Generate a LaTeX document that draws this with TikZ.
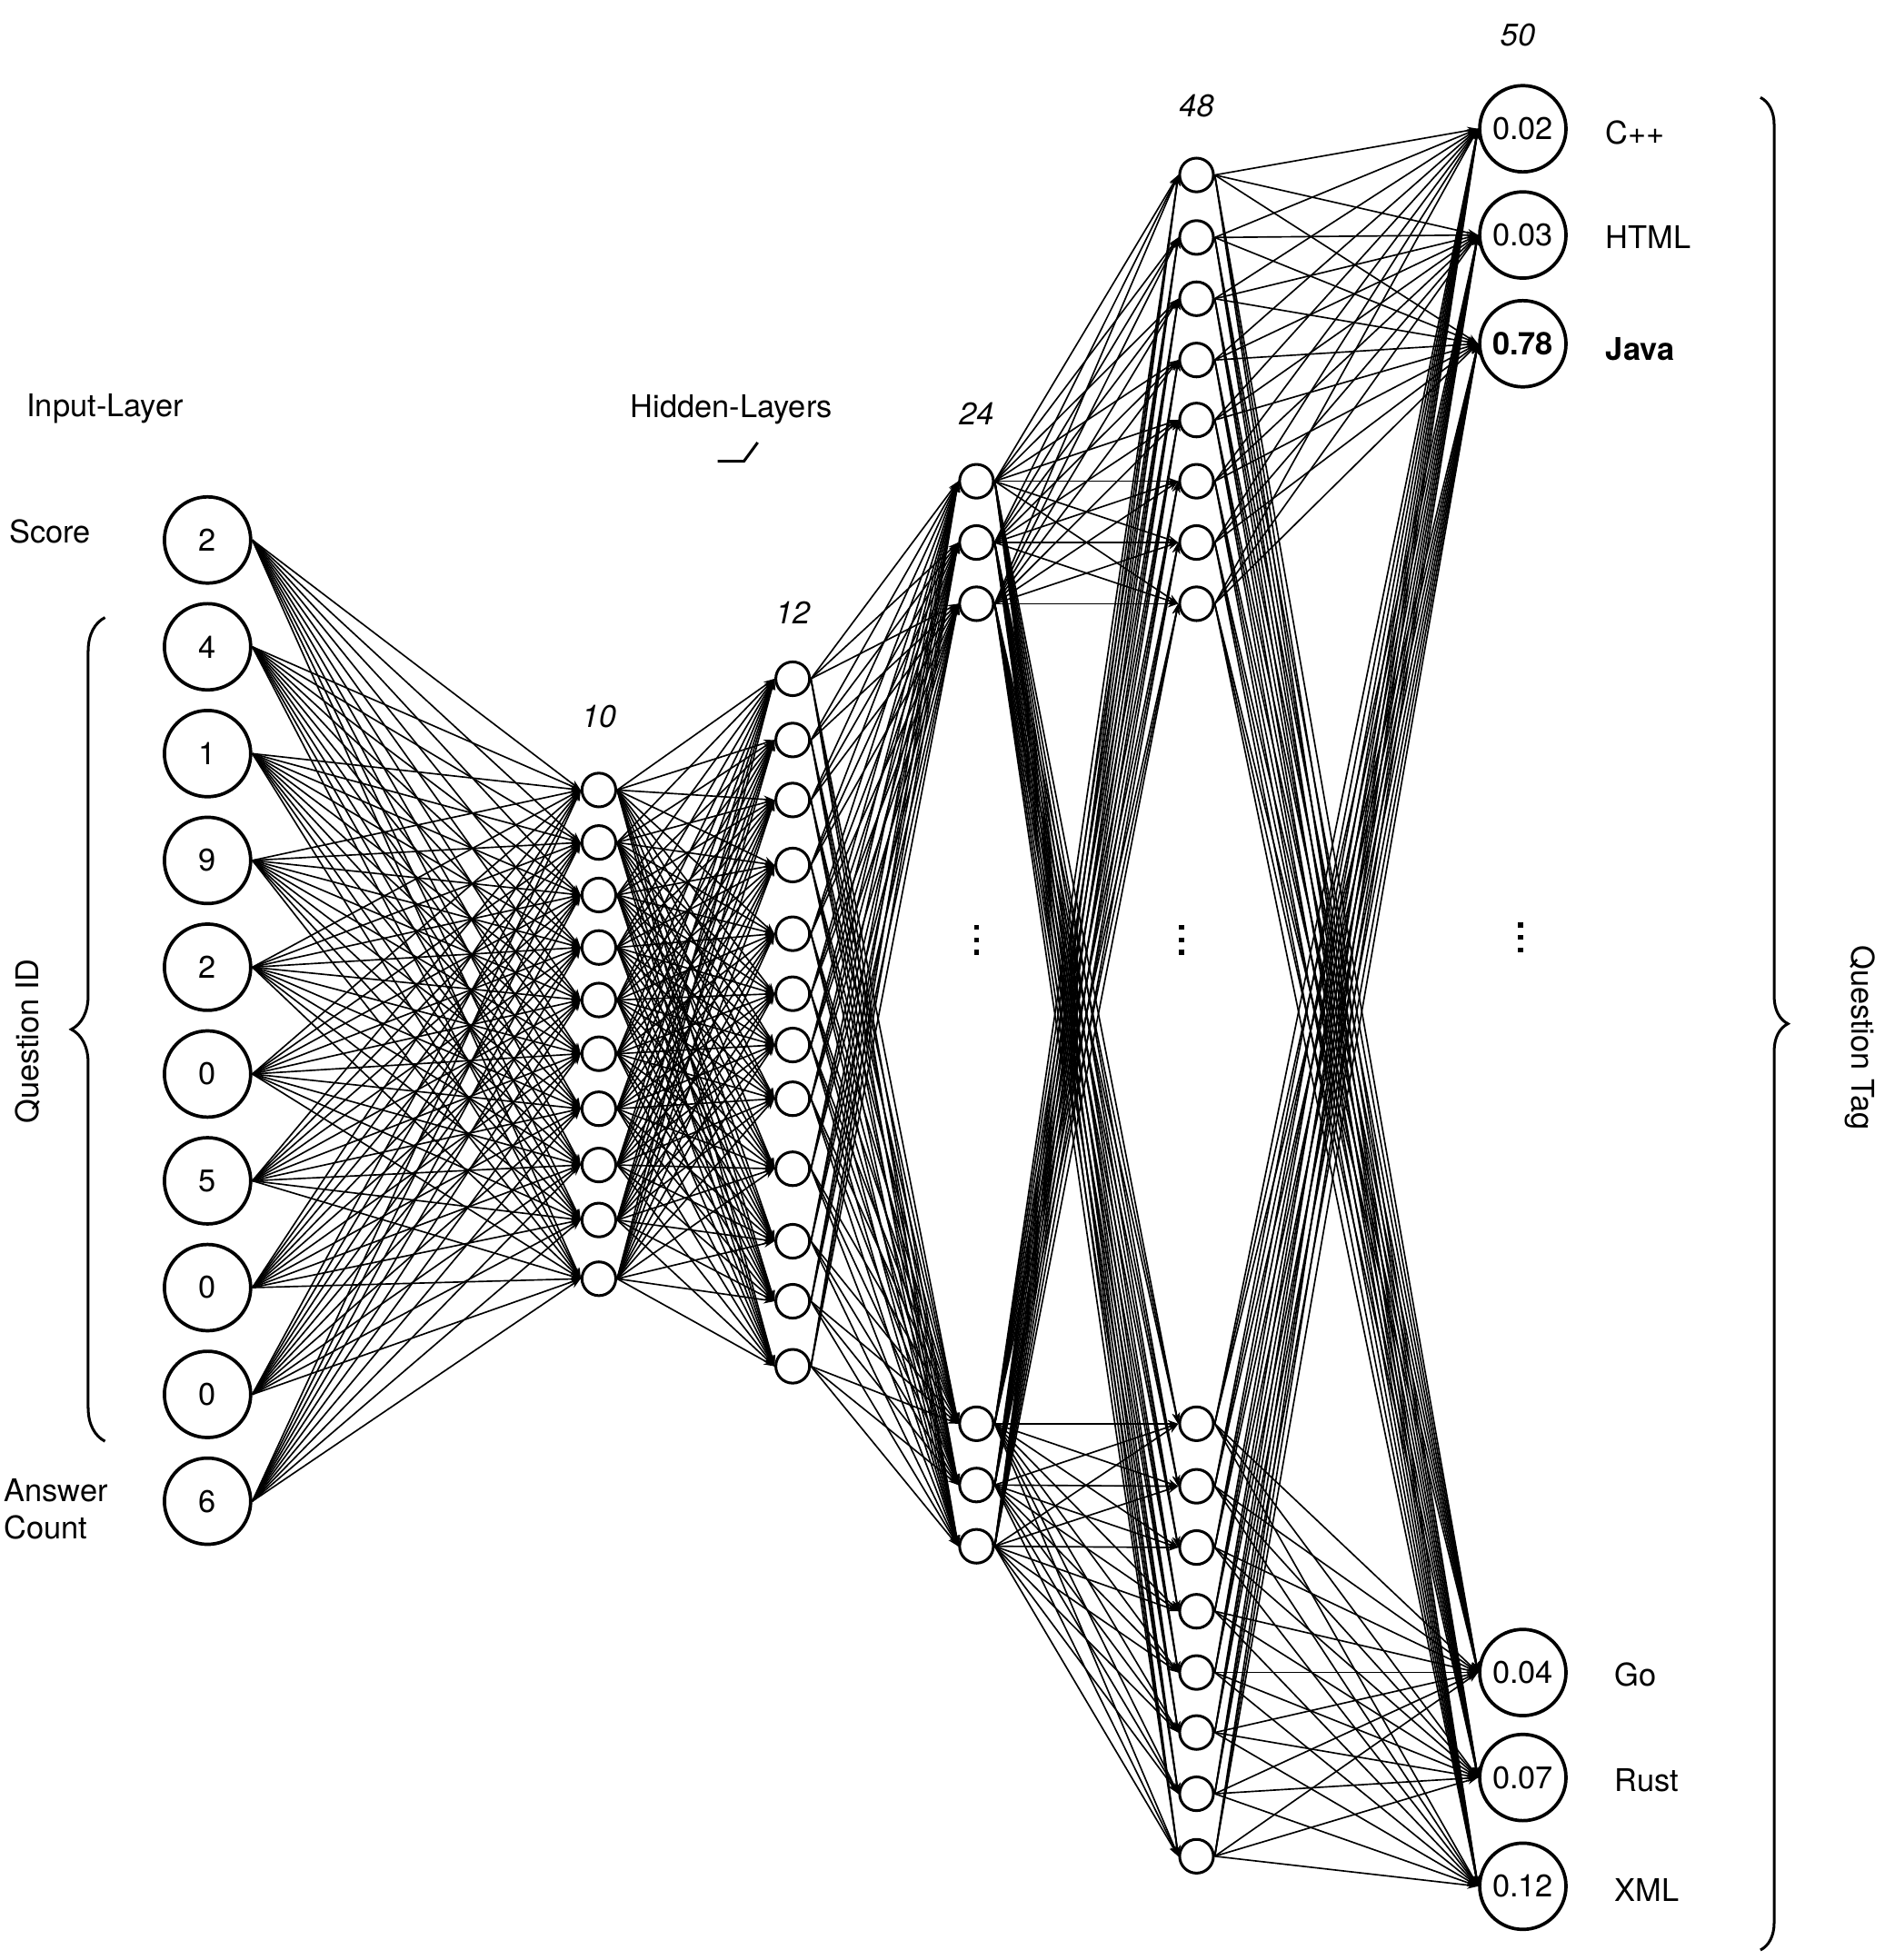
\documentclass[tikz,border=0pt]{standalone}
\usepackage{fontspec}
\setmainfont{TeX Gyre Heros}
\usetikzlibrary{arrows.meta,decorations.pathreplacing}
\pgfdeclarelayer{background}
\pgfsetlayers{background,main}
\begin{document}
\begin{tikzpicture}[x=0.5pt,y=-0.5pt,
  every node/.style={font=\fontsize{12.5}{15}\selectfont},
  bignode/.style={circle,draw,fill=white,line width=1.35pt,minimum size=34.5pt,inner sep=0pt},
  smallnode/.style={circle,draw,fill=white,line width=1.1pt,minimum size=13.5pt,inner sep=0pt},
  conn/.style={line width=0.6pt,-{Stealth[length=4.3pt,width=3pt]}},
  laylabel/.style={font=\fontsize{12.5}{15}\selectfont\itshape},
  taglabel/.style={anchor=west,inner sep=0pt},
  bracestyle/.style={line width=1.1pt,decorate},
  dotmark/.style={fill=black}]
\useasboundingbox (0,0) rectangle (1507,1568);

% input layer
\foreach \v [count=\i from 0] in {2,4,1,9,2,0,5,0,0,6}
  \node[bignode] (in\i) at (166,{432+85.44*\i}) {\v};
% hidden layer 10
\foreach \y [count=\i] in {632,674,716,758,800,843,887,932,976,1023}
  \node[smallnode] (a\i) at (479,\y) {};
% hidden layer 12
\foreach \y [count=\i] in {543,592,640,692,747,795,836,879,935,993,1041,1093}
  \node[smallnode] (b\i) at (634,\y) {};
% hidden layer 24
\foreach \y [count=\i] in {385,434,483,1139,1188,1237}
  \node[smallnode] (c\i) at (781,\y) {};
% hidden layer 48
\foreach \y [count=\i] in {140,190,239,288,336,385,434,483,1139,1189,1238,1289,1338,1386,1435,1485}
  \node[smallnode] (d\i) at (957,\y) {};
% output layer
\node[bignode] (o1) at (1218,103) {0.02};
\node[bignode] (o2) at (1218,188) {0.03};
\node[bignode] (o3) at (1218,275) {\bfseries 0.78};
\node[bignode] (o4) at (1218,1338) {0.04};
\node[bignode] (o5) at (1218,1422) {0.07};
\node[bignode] (o6) at (1218,1509) {0.12};

% connections
\begin{pgfonlayer}{background}
\foreach \i in {0,...,9} \foreach \j in {1,...,10}
  \draw[conn] (in\i.east) -- (a\j.west);
\foreach \i in {1,...,10} \foreach \j in {1,...,12}
  \draw[conn] (a\i.east) -- (b\j.west);
\foreach \i in {1,...,12} \foreach \j in {1,...,6}
  \draw[conn] (b\i.east) -- (c\j.west);
\foreach \i in {1,...,6} \foreach \j in {1,...,16}
  \draw[conn] (c\i.east) -- (d\j.west);
\foreach \i in {1,...,16} \foreach \j in {1,...,6}
  \draw[conn] (d\i.east) -- (o\j.west);
\end{pgfonlayer}

% vertical ellipsis marks
\foreach \x/\yc in {781/752, 945/752, 1216/750}
  \foreach \k in {-1,0,1}
    \fill[dotmark] ({\x-2},{\yc+10*\k-2}) rectangle ({\x+2},{\yc+10*\k+2});

% layer sizes
\node[laylabel] (l10) at (479,573) {10};
\node[laylabel] (l12) at (634,490) {12};
\node[laylabel] (l24) at (781,331) {24};
\node[laylabel] (l48) at (957,85) {48};
\node[laylabel] (l50) at (1214,28) {50};

% left labels
\node (tinput) at (84,327) {Input-Layer};
\node (tscore) at (40,425) {Score};
\node[rotate=90] (tqid) at (22,833) {Question ID};
\node[align=left,anchor=west,inner sep=0pt] (tans) at (3,1207) {Answer\\Count};
\node (thidden) at (585,328) {Hidden-Layers};
\draw[line width=1.1pt] (574,369) -- (595,369) -- (606,354);

% braces
\draw[bracestyle,decoration={brace,amplitude=13.5pt}] (84,1153) -- (84,494);
\draw[bracestyle,decoration={brace,amplitude=11pt}] (1408,78) -- (1408,1560);
\node[rotate=-90] (tqtag) at (1488,830) {Question Tag};

% output tags
\node[taglabel] (tc) at (1284,106) {C++};
\node[taglabel] (th) at (1284,190) {HTML};
\node[taglabel] (tj) at (1284,279) {\bfseries Java};
\node[taglabel] (tg) at (1291,1340) {Go};
\node[taglabel] (tr) at (1291,1424) {Rust};
\node[taglabel] (tx) at (1291,1512) {XML};
\end{tikzpicture}
\end{document}
